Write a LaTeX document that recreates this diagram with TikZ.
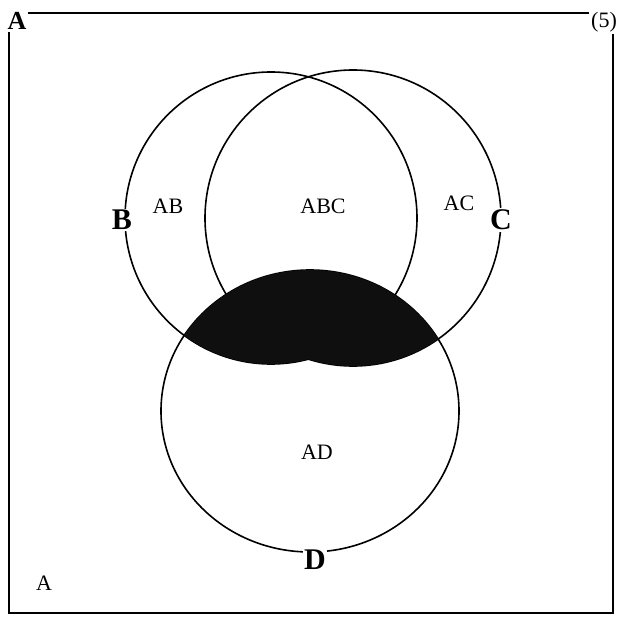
\documentclass[tikz,border=0pt]{standalone}
\usepackage{fontspec}
\setmainfont{Liberation Serif}
\usepackage{xcolor}

\begin{document}
\begin{tikzpicture}[
    x=1pt, y=-1pt,
    outline/.style={line width=1.6pt},
    setname/.style={font=\fontsize{30}{32}\selectfont\bfseries, fill=white, inner sep=1.5pt},
    region/.style={font=\fontsize{22}{24}\selectfont, inner sep=0pt},
    darkpart/.style={fill=black!94}
]
\useasboundingbox (0,0) rectangle (618,621);
\coordinate (cB) at (271,218);
\coordinate (cC) at (353,218);
\coordinate (cD) at (310,411);

\draw[line width=1.9pt] (9,13) rectangle (613,613);

\draw[outline] (cB) circle (146);
\draw[outline] (cC) circle (148);
\draw[outline] (cD) ellipse (149 and 141);

\begin{scope}
\clip (cD) ellipse (149 and 141);
\fill[darkpart] (cB) circle (146) (cC) circle (148);
\end{scope}

\node[font=\fontsize{26}{28}\selectfont\bfseries, fill=white, inner sep=2pt] (universe) at (17,21) {A};
\node[font=\fontsize{22}{24}\selectfont, fill=white, inner sep=2pt] (number) at (604,22) {(5)};

\node[setname] (labB) at (122,220) {B};
\node[setname] (labC) at (501,220) {C};
\node[setname] (labD) at (315,560) {D};

\node[region] (ab) at (168,206) {AB};
\node[region] (abc) at (323,206) {ABC};
\node[region] (ac) at (459,203) {AC};
\node[region] (ad) at (317,452) {AD};
\node[region] (rest) at (44,583) {A};
\end{tikzpicture}
\end{document}
